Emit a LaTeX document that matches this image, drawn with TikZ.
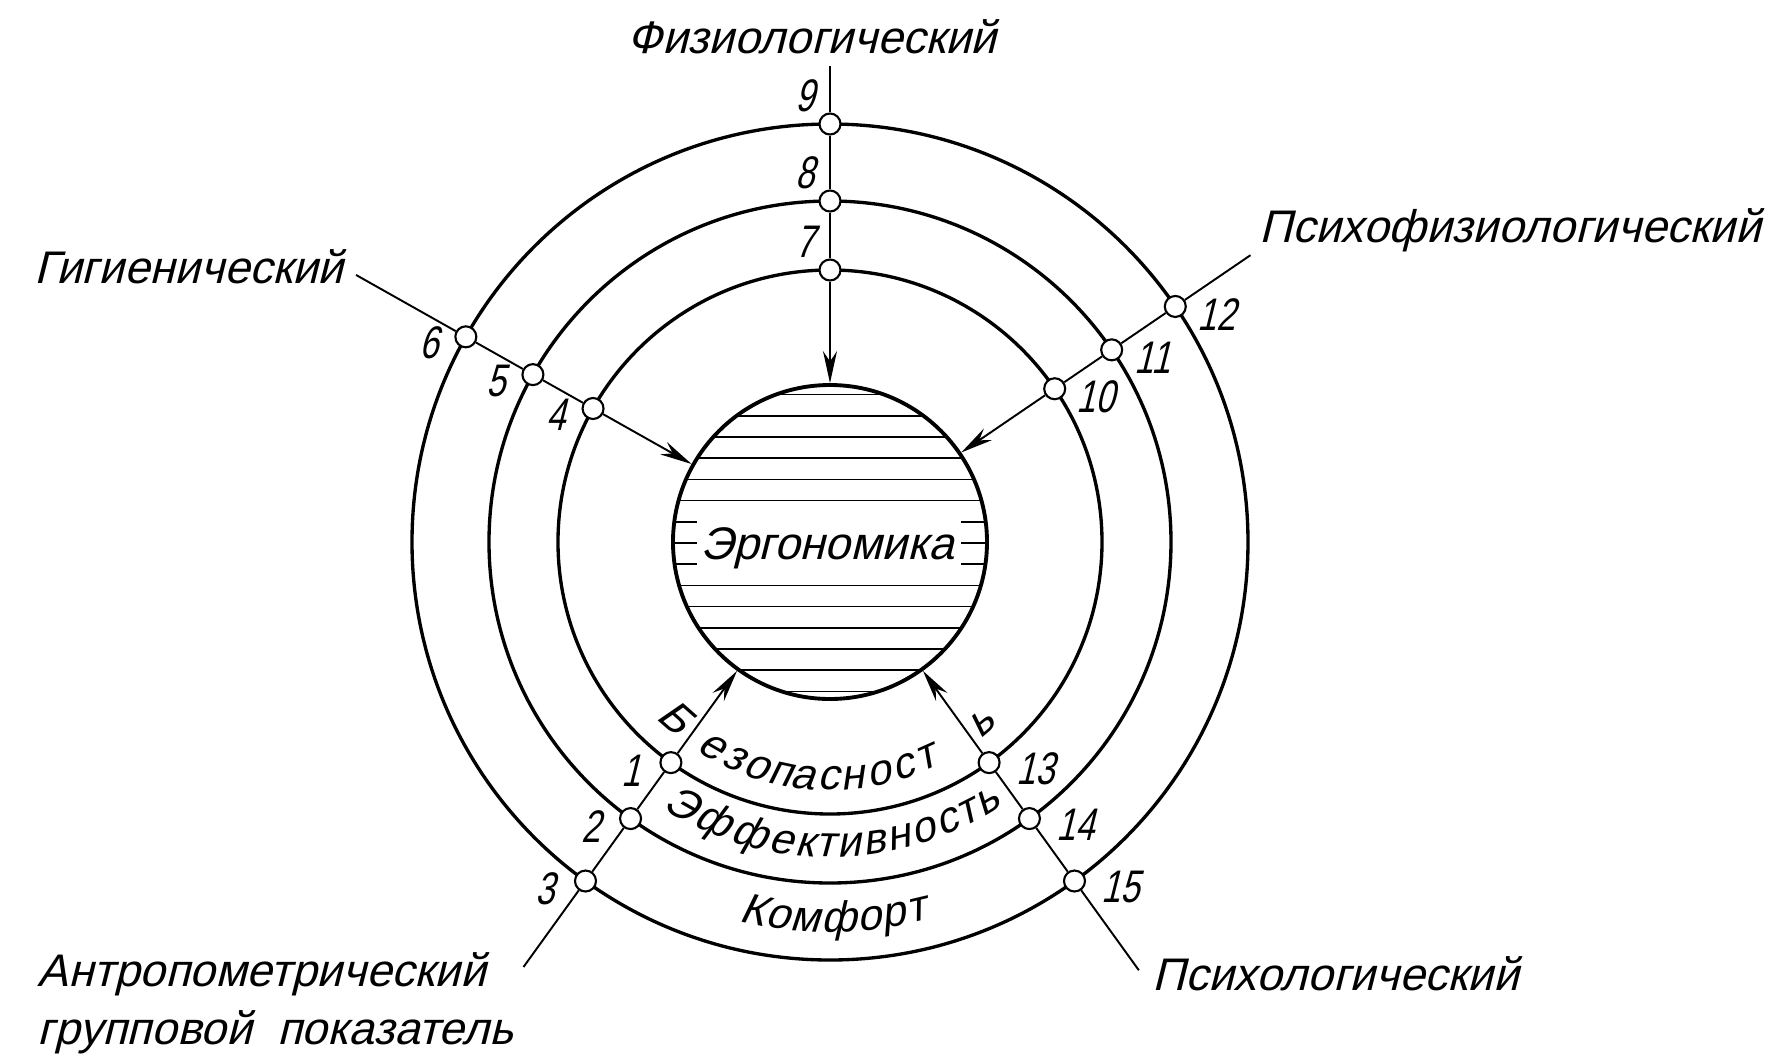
\documentclass[tikz,border=0pt]{standalone}
\usepackage{fontspec}
\setmainfont{Liberation Sans}[FakeSlant=0.25]
\newfontfamily\numfont{Liberation Sans}[FakeSlant=0.25,FakeStretch=0.75]
\usetikzlibrary{arrows.meta}

\begin{document}
\begin{tikzpicture}[>={Stealth[length=3.2mm,width=1.4mm]},every node/.style={font=\fontsize{13}{16.5}\selectfont},ring/.style={line width=0.95pt},spoke/.style={line width=0.55pt},hatch/.style={line width=0.5pt},jn/.style={circle,draw,line width=0.6pt,fill=white,minimum size=2.1mm,inner sep=0pt},num/.style={font=\numfont\fontsize{13}{16}\selectfont,inner sep=0pt},lbl/.style={inner sep=0pt},arcl/.style={inner sep=0pt,anchor=base,font=\fontsize{12.3}{14}\selectfont}]
\useasboundingbox (-8.30,-5.14) rectangle (9.57,5.42);
% three rings
\foreach \r in {2.72,3.41,4.18} \draw[ring] (0,0) circle (\r);
% hatching of the core
\begin{scope}
\clip (0,0) circle (1.57);
\foreach \k in {-7,-6,-5,-4,-3,-2,2,3,4,5,6,7} \draw[hatch] (-1.6,{-0.01-0.212*\k}) -- (1.6,{-0.01-0.212*\k});
\foreach \k in {-1,0,1} \draw[hatch] (-1.6,{-0.01-0.212*\k}) -- (-1.33,{-0.01-0.212*\k}) (1.31,{-0.01-0.212*\k}) -- (1.6,{-0.01-0.212*\k});
\end{scope}
\node[circle,draw,line width=1.1pt,minimum size=3.14cm,inner sep=0pt] (erg) at (0,0) {};
\node[lbl,anchor=base] (ergtxt) at (-0.03,-0.17) {Эргономика};
% junctions on the rings, numbers shifted off the spoke
\foreach \ang/\i/\j/\k/\dx/\dy in {90/7/8/9/-0.25/0.28,150.6/4/5/6/-0.37/-0.06,34.3/10/11/12/0.41/-0.08,234.2/1/2/3/-0.40/-0.08,305.8/13/14/15/0.46/-0.06}{
  \node[jn,label={[num,xshift=\dx cm,yshift=\dy cm]center:\i}] (n\i) at (\ang:2.72) {};
  \node[jn,label={[num,xshift=\dx cm,yshift=\dy cm]center:\j}] (n\j) at (\ang:3.41) {};
  \node[jn,label={[num,xshift=\dx cm,yshift=\dy cm]center:\k}] (n\k) at (\ang:4.18) {};
}
% free ends of the spokes
\coordinate (eT) at (90:4.76);
\coordinate (eUL) at (150.6:5.44);
\coordinate (eUR) at (34.3:5.09);
\coordinate (eLL) at (234.2:5.24);
\coordinate (eLR) at (305.8:5.28);
\draw[spoke] (eT)--(n9)--(n8)--(n7); \draw[spoke,->] (n7)--(erg);
\draw[spoke] (eUL)--(n6)--(n5)--(n4); \draw[spoke,->] (n4)--(erg);
\draw[spoke] (eUR)--(n12)--(n11)--(n10); \draw[spoke,->] (n10)--(erg);
\draw[spoke] (eLL)--(n3)--(n2)--(n1); \draw[spoke,->] (n1)--(erg);
\draw[spoke] (eLR)--(n15)--(n14)--(n13); \draw[spoke,->] (n13)--(erg);
% outer labels
\node[lbl,anchor=base] (tFiz) at (-0.18,4.89) {Физиологический};
\node[lbl,anchor=base east] (tGig) at (-4.86,2.59) {Гигиенический};
\node[lbl,anchor=base west] (tPsf) at (4.29,3.00) {Психофизиологический};
\node[lbl,anchor=north west,align=left] (tAnt) at (-7.93,-4.10) {Антропометрический\\групповой\ \ показатель};
\node[lbl,anchor=base west] (tPsl) at (3.22,-4.48) {Психологический};
% words along the rings
\foreach \a/\l [count=\i] in {-131.5/Б,-120/е,-114/з,-108/о,-102/п,-96.5/а,-90.5/с,-84.5/н,-78/о,-72/с,-66/т,-50/ь}
  \node[arcl,rotate=\a+90] (bz\i) at (\a:2.48) {\l};
\foreach \a/\l [count=\i] in {-119.5/Э,-112.6/ф,-105.3/ф,-99.2/е,-94.8/к,-90.9/т,-86.4/и,-81.6/в,-76.9/н,-72/о,-67.4/с,-63.1/т,-58.8/ь}
  \node[arcl,rotate=\a+90] (ef\i) at (\a:3.15) {\l};
\foreach \a/\l [count=\i] in {-101.7/К,-97.9/о,-93.8/м,-88.7/ф,-84/о,-80.3/р,-76.8/т}
  \node[arcl,rotate=\a+90] (kf\i) at (\a:3.90) {\l};
\end{tikzpicture}
\end{document}
